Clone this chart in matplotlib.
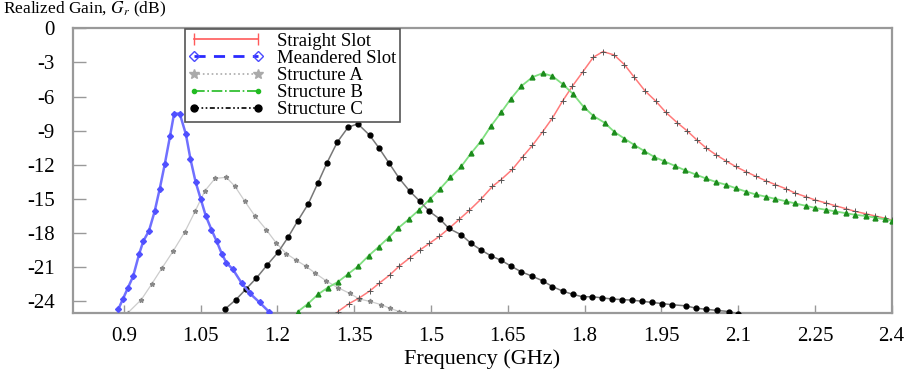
import matplotlib
matplotlib.use("Agg")
import matplotlib.pyplot as plt
from matplotlib.lines import Line2D

# Straight Slot
f_straight = [1.318, 1.340, 1.360, 1.380, 1.399, 1.419, 1.438, 1.458, 1.478, 1.497,
              1.516, 1.535, 1.555, 1.575, 1.598, 1.620, 1.637, 1.659, 1.679, 1.698,
              1.718, 1.737, 1.757, 1.776, 1.797, 1.817, 1.836, 1.858, 1.878, 1.897,
              1.918, 1.939, 1.959, 1.981, 2.000, 2.019, 2.037, 2.056, 2.076, 2.095,
              2.115, 2.134, 2.154, 2.173, 2.193, 2.212, 2.232, 2.251, 2.271, 2.290,
              2.310, 2.329, 2.349, 2.368, 2.387, 2.400]
g_straight = [-24.9, -24.2, -23.7, -23.1, -22.4, -21.7, -20.9, -20.2, -19.5, -18.9,
              -18.3, -17.6, -16.8, -16.0, -15.0, -13.9, -13.3, -12.4, -11.3, -10.3,
              -9.1, -7.9, -6.4, -5.1, -3.8, -2.55, -2.05, -2.35, -3.2, -4.3,
              -5.5, -6.4, -7.4, -8.3, -9.0, -9.8, -10.5, -11.1, -11.65, -12.15,
              -12.6, -13.0, -13.4, -13.75, -14.1, -14.5, -14.8, -15.1, -15.35, -15.6,
              -15.85, -16.1, -16.3, -16.5, -16.7, -16.85]

# Meandered Slot
f_meander = [0.889, 0.898, 0.908, 0.918, 0.930, 0.938, 0.949, 0.960, 0.970, 0.980,
             0.990, 0.998, 1.009, 1.021, 1.030, 1.040, 1.050, 1.060, 1.071, 1.081,
             1.091, 1.100, 1.113, 1.130, 1.146, 1.165, 1.183]
g_meander = [-24.7, -23.8, -22.8, -21.8, -19.8, -18.7, -17.8, -16.1, -14.1, -11.9,
             -9.5, -7.5, -7.5, -9.3, -11.5, -13.5, -15.0, -16.5, -17.7, -18.7,
             -19.8, -20.6, -21.2, -22.4, -23.3, -24.1, -24.9]

# Structure A
f_a = [0.908, 0.934, 0.954, 0.974, 0.996, 1.019, 1.039, 1.058, 1.078, 1.100,
       1.117, 1.136, 1.156, 1.178, 1.198, 1.217, 1.237, 1.255, 1.273, 1.295,
       1.318, 1.341, 1.360, 1.380, 1.403, 1.419, 1.438, 1.450]
g_a = [-25.0, -23.85, -22.5, -21.1, -19.6, -17.9, -16.1, -14.3, -13.2, -13.1,
       -13.9, -15.2, -16.5, -17.7, -18.9, -19.8, -20.4, -20.9, -21.5, -22.2,
       -22.8, -23.3, -23.8, -24.0, -24.3, -24.6, -24.9, -25.0]

# Structure B
f_b = [1.240, 1.260, 1.279, 1.298, 1.318, 1.338, 1.358, 1.378, 1.398, 1.417,
       1.435, 1.456, 1.477, 1.498, 1.518, 1.538, 1.559, 1.578, 1.598, 1.617,
       1.637, 1.656, 1.676, 1.698, 1.718, 1.737, 1.757, 1.778, 1.798, 1.817,
       1.839, 1.858, 1.878, 1.897, 1.917, 1.936, 1.956, 1.977, 1.997, 2.017,
       2.037, 2.056, 2.076, 2.095, 2.115, 2.134, 2.154, 2.173, 2.193, 2.212,
       2.232, 2.251, 2.271, 2.290, 2.310, 2.329, 2.349, 2.368, 2.387, 2.400]
g_b = [-24.9, -24.2, -23.4, -22.8, -22.3, -21.6, -20.9, -20.0, -19.2, -18.4,
       -17.6, -16.8, -15.95, -15.0, -14.1, -13.1, -12.15, -11.0, -9.9, -8.6,
       -7.4, -6.2, -5.1, -4.3, -3.95, -4.2, -4.9, -5.8, -6.9, -7.7,
       -8.3, -9.1, -9.7, -10.25, -10.8, -11.3, -11.7, -12.1, -12.5, -12.85,
       -13.2, -13.5, -13.75, -14.05, -14.35, -14.6, -14.8, -15.0, -15.2, -15.4,
       -15.6, -15.8, -15.95, -16.1, -16.25, -16.4, -16.5, -16.65, -16.8, -16.9]

# Structure C
f_c = [1.097, 1.119, 1.139, 1.159, 1.180, 1.201, 1.221, 1.240, 1.260, 1.279,
       1.297, 1.317, 1.338, 1.357, 1.380, 1.398, 1.418, 1.438, 1.458, 1.478,
       1.497, 1.518, 1.535, 1.559, 1.578, 1.598, 1.617, 1.637, 1.656, 1.676,
       1.698, 1.718, 1.737, 1.757, 1.778, 1.796, 1.815, 1.835, 1.854, 1.874,
       1.893, 1.913, 1.932, 1.952, 1.971, 1.998, 2.017, 2.037, 2.059, 2.082, 2.100]
g_c = [-24.7, -23.85, -22.9, -21.95, -20.8, -19.7, -18.35, -16.9, -15.45, -13.6,
       -11.8, -10.0, -8.7, -8.4, -9.4, -10.5, -11.85, -13.2, -14.3, -15.2,
       -16.1, -16.8, -17.6, -18.15, -18.9, -19.5, -20.0, -20.4, -20.9, -21.4,
       -21.8, -22.2, -22.7, -23.1, -23.4, -23.6, -23.6, -23.7, -23.8, -23.85,
       -23.9, -24.0, -24.1, -24.2, -24.3, -24.4, -24.6, -24.7, -24.8, -24.9, -25.1]

x_ticks = [0.9, 1.05, 1.2, 1.35, 1.5, 1.65, 1.8, 1.95, 2.1, 2.25, 2.4]
x_labels = ["0.9", "1.05", "1.2", "1.35", "1.5", "1.65", "1.8", "1.95", "2.1", "2.25", "2.4"]
y_ticks = [0, -3, -6, -9, -12, -15, -18, -21, -24]
y_labels = ["0", "-3", "-6", "-9", "-12", "-15", "-18", "-21", "-24"]

labels = ["Straight Slot", "Meandered Slot", "Structure A", "Structure B", "Structure C"]

plt.rcParams["font.family"] = ["Liberation Serif", "DejaVu Serif"]
plt.rcParams["mathtext.fontset"] = "stix"
plt.rcParams["axes.unicode_minus"] = False

fig = plt.figure(figsize=(9.15, 3.77), dpi=100)
ax = fig.add_axes([0.0795, 0.1706, 0.8950, 0.7544])

ax.plot(f_straight, g_straight, color="#ff7a7a", lw=1.1, marker="+", ms=4,
        mec="#555555", mew=0.7, zorder=3)
ax.plot(f_meander, g_meander, color="#7070ff", lw=1.8, marker="D", ms=3,
        mfc="#5050ff", mec="#5050ff", zorder=4)
ax.plot(f_a, g_a, color="#cccccc", lw=0.9, marker="*", ms=3.5,
        mfc="#888888", mec="#888888", zorder=2)
ax.plot(f_b, g_b, color="#80e080", lw=1.3, marker="^", ms=3.5,
        mfc="#1c8c1c", mec="#1c8c1c", zorder=3)
ax.plot(f_c, g_c, color="#777777", lw=1.1, marker="o", ms=3.5,
        mfc="black", mec="black", zorder=3)

ax.set_xlim(0.8, 2.4)
ax.set_ylim(-25, 0)
ax.set_xticks(x_ticks)
ax.set_xticklabels(x_labels)
ax.set_yticks(y_ticks)
ax.set_yticklabels(y_labels)
ax.tick_params(axis="y", direction="in", length=9, width=1, color="#999999",
               pad=13, labelsize=15)
ax.tick_params(axis="x", direction="in", length=6, width=1, color="#999999",
               pad=10, labelsize=15)
for s in ax.spines.values():
    s.set_color("#999999")
    s.set_linewidth(1.6)

ax.set_xlabel("Frequency (GHz)", fontsize=16, labelpad=3)
fig.text(0.003, 0.975, "Realized Gain, $G_r$ (dB)", fontsize=12.5, ha="left", va="center")

# legend proxies drawn in the same style as the original key
handles = [
    Line2D([], [], color="#ff5a5a", lw=1.2, marker="|", ms=8, mec="#ff5a5a"),
    Line2D([], [], color="#2a2aff", lw=2.0, ls=(0, (4, 3)), marker="D", ms=5,
           mfc="none", mec="#4a4aff"),
    Line2D([], [], color="#aaaaaa", lw=1.2, ls=":", marker="*", ms=7,
           mfc="#aaaaaa", mec="#aaaaaa"),
    Line2D([], [], color="#22bb22", lw=1.2, ls="-.", marker="o", ms=3,
           mfc="#22bb22", mec="#22bb22"),
    Line2D([], [], color="black", lw=1.2, ls=(0, (3, 1.5, 1, 1.5, 1, 1.5)),
           marker="o", ms=5, mfc="black", mec="black"),
]
leg = ax.legend(handles, labels, loc="upper left",
                bbox_to_anchor=(185 / 915, 1 - 29 / 377),
                bbox_transform=fig.transFigure, fontsize=13.5, frameon=True,
                fancybox=False, framealpha=1, edgecolor="#555555",
                handlelength=4.0, handletextpad=0.7, labelspacing=0.0,
                borderpad=0.2, borderaxespad=0, numpoints=2)
leg.get_frame().set_linewidth(1.2)

fig.savefig("out.png", dpi=100)
